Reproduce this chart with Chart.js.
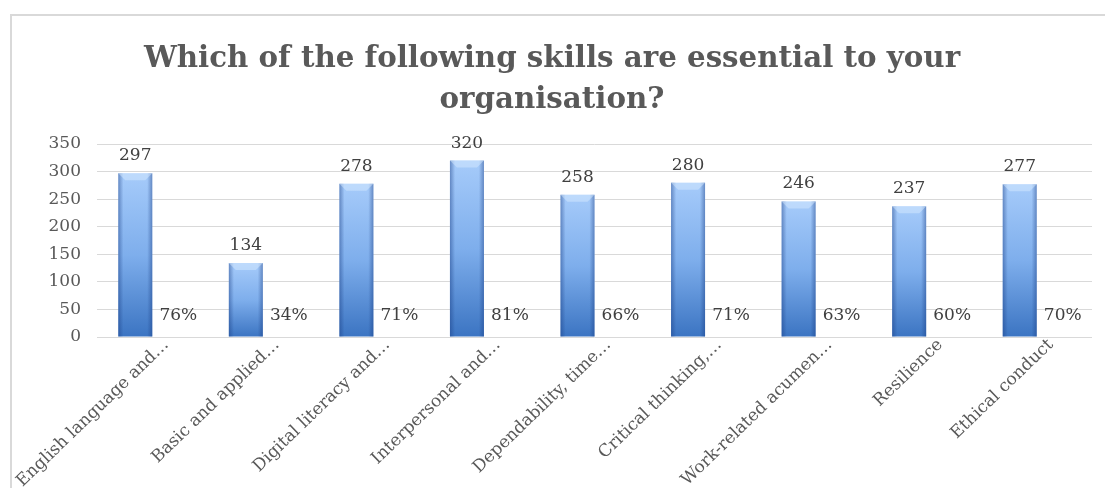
<!DOCTYPE html>
<html>
<head>
<meta charset="utf-8">
<script src="https://cdn.jsdelivr.net/npm/chart.js@4"></script>
<style>
  html, body { margin: 0; padding: 0; background: #fff; overflow: hidden; }
  #frame { position: absolute; left: 10px; top: 14px; width: 1110px; height: 490px; border: 2px solid #d9d9d9; }
  #wrap { position: absolute; left: 0; top: 0; width: 1093px; height: 472px; }
</style>
</head>
<body>
<div id="frame"><div id="wrap"><canvas id="skillsChart"></canvas></div></div>
<script>
let skills = ['English language and\u2026', 'Basic and applied\u2026', 'Digital literacy and\u2026', 'Interpersonal and\u2026',
  'Dependability, time\u2026', 'Critical thinking,\u2026', 'Work-related acumen\u2026', 'Resilience', 'Ethical conduct'];
let counts = [297, 134, 278, 320, 258, 280, 246, 237, 277];
let percents = [76, 34, 71, 81, 66, 71, 63, 60, 70];
let yTicks = [0, 50, 100, 150, 200, 250, 300, 350];

let serif = "'DejaVu Serif', serif";

// vertical gradient for each count bar, light at the top, darker at the base
function barFill(c) {
  let chart = c.chart;
  if (!chart.chartArea || c.raw === undefined) return '#6f9fe0';
  let y = chart.scales.y;
  let top = y.getPixelForValue(c.raw);
  let base = y.getPixelForValue(0);
  let g = chart.ctx.createLinearGradient(0, top, 0, base);
  g.addColorStop(0, '#a6cbfa');
  g.addColorStop(0.5, '#7eaeec');
  g.addColorStop(1, '#3b74c2');
  return g;
}

// shading on the sides + bevel at the top of each count bar
let bevel = {
  id: 'bevel',
  afterDatasetDraw(chart, args) {
    if (args.index !== 0) return;
    let ctx = chart.ctx;
    args.meta.data.forEach(bar => {
      let l = bar.x - bar.width / 2, r = bar.x + bar.width / 2;
      let t = bar.y, b = bar.base;
      ctx.save();
      let h = ctx.createLinearGradient(l, 0, r, 0);
      h.addColorStop(0, 'rgba(25,60,130,0.45)');
      h.addColorStop(0.15, 'rgba(25,60,130,0)');
      h.addColorStop(0.85, 'rgba(25,60,130,0)');
      h.addColorStop(1, 'rgba(25,60,130,0.45)');
      ctx.fillStyle = h;
      ctx.fillRect(l, t, r - l, b - t);
      ctx.beginPath();
      ctx.moveTo(l, t);
      ctx.lineTo(r, t);
      ctx.lineTo(r - 7, t + 7);
      ctx.lineTo(l + 7, t + 7);
      ctx.closePath();
      ctx.fillStyle = 'rgba(220,238,255,0.45)';
      ctx.fill();
      ctx.restore();
    });
  }
};

// value labels: counts above the bars, percentages near the base
let labels = {
  id: 'labels',
  afterDatasetsDraw(chart) {
    let ctx = chart.ctx;
    ctx.save();
    ctx.font = '17px ' + serif;
    ctx.fillStyle = '#404040';
    ctx.textAlign = 'center';
    ctx.textBaseline = 'bottom';
    chart.getDatasetMeta(0).data.forEach((bar, i) => {
      ctx.fillText(String(counts[i]), bar.x, bar.y - 9);
    });
    ctx.textBaseline = 'middle';
    chart.getDatasetMeta(1).data.forEach((bar, i) => {
      ctx.fillText(percents[i] + '%', bar.x + 9, bar.y - 21);
    });
    ctx.restore();
  }
};

let ctx = document.getElementById('skillsChart').getContext('2d');
let myChart = new Chart(ctx, {
  type: 'bar',
  data: {
    labels: skills,
    datasets: [{
      label: 'Respondents',
      data: counts,
      backgroundColor: barFill,
      borderWidth: 0
    }, {
      label: 'Share',
      data: percents.map(p => p / 100),
      backgroundColor: 'rgba(0,0,0,0)',
      borderWidth: 0
    }]
  },
  options: {
    responsive: true,
    maintainAspectRatio: false,
    animation: false,
    categoryPercentage: 0.615,
    barPercentage: 1,
    layout: { padding: { left: 0, right: 13, top: 0, bottom: 0 } },
    scales: {
      x: {
        grid: { display: false, drawTicks: false },
        border: { display: false },
        ticks: {
          color: '#595959',
          font: { family: serif, size: 17 },
          minRotation: 44,
          maxRotation: 44,
          autoSkip: false,
          padding: -2,
          labelOffset: 14
        },
        afterFit: s => {
          s.height = 151;
          s.paddingLeft = 0;
          s.paddingRight = 0;
        }
      },
      y: {
        min: 0,
        max: 350,
        afterBuildTicks: s => { s.ticks = yTicks.map(v => ({ value: v })); },
        grid: { color: '#d9d9d9', lineWidth: 1, drawTicks: false },
        border: { display: false },
        ticks: {
          color: '#595959',
          font: { family: serif, size: 17 },
          padding: 16
        },
        afterFit: s => { s.width = 85; }
      }
    },
    plugins: {
      legend: { display: false },
      tooltip: { enabled: false },
      title: {
        display: true,
        text: ['Which of the following skills are essential to your', 'organisation?'],
        color: '#595959',
        font: { family: serif, size: 29.3, weight: 'bold', lineHeight: 1.4 },
        padding: { top: 23, bottom: 23 }
      }
    }
  },
  plugins: [bevel, labels]
});
</script>
</body>
</html>
